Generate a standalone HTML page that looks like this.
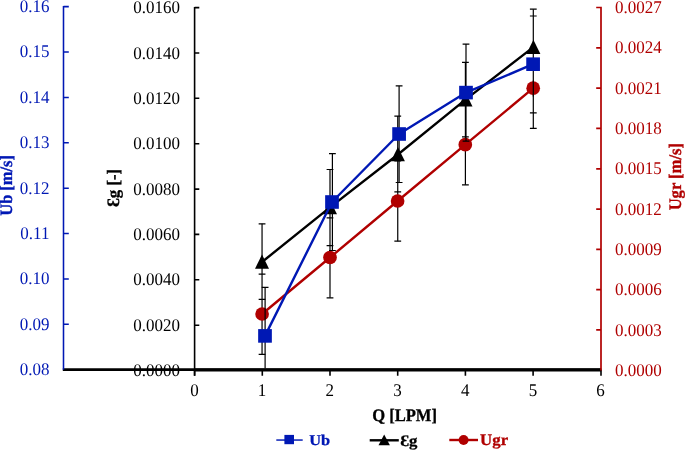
<!DOCTYPE html>
<html><head><meta charset="utf-8"><title>chart</title>
<style>
html,body{margin:0;padding:0;background:#fff;}
body{width:685px;height:450px;overflow:hidden;}
svg{display:block;will-change:transform;}
text{font-family:"Liberation Serif",serif;font-size:17px;text-rendering:geometricPrecision;}
.b{font-weight:bold;font-size:16px;stroke-width:.3px;}
</style></head><body>
<svg width="685" height="450" viewBox="0 0 685 450">
<rect width="685" height="450" fill="#fff"/>
<g id="black">
<polyline points="262.0,262.0 330.0,207.4 397.9,154.5 465.5,99.6 533.4,47.1" fill="none" stroke="#000000" stroke-width="2.4" stroke-linejoin="round"/>
<path d="M262.05 223.8V354.4M330.00 169.5V297.8M397.75 116.1V241.2M465.40 62.3V184.8M533.30 9.2V128.3" stroke="#000" stroke-width="1.2" fill="none"/>
<path d="M258.65 223.8H265.45M258.65 299.4H265.45M326.60 169.5H333.40M326.60 245.6H333.40M394.35 116.1H401.15M394.35 191.8H401.15M462.00 62.3H468.80M462.00 136.9H468.80M529.90 9.2H536.70M529.90 85.0H536.70" stroke="#000" stroke-width="1.2" fill="none"/>
<path d="M262.0 254.6L269.0 268.8H255.0Z" fill="#000000"/>
<path d="M330.0 200.0L337.0 214.2H323.0Z" fill="#000000"/>
<path d="M397.9 147.1L404.9 161.3H390.9Z" fill="#000000"/>
<path d="M465.5 92.2L472.5 106.4H458.5Z" fill="#000000"/>
<path d="M533.4 39.7L540.4 53.9H526.4Z" fill="#000000"/>
</g>
<g id="red">
<polyline points="262.1,314.0 330.0,257.5 397.6,201.0 465.3,144.7 533.2,88.2" fill="none" stroke="#b00000" stroke-width="2.4" stroke-linejoin="round"/>
<path d="M258.65 274.2H265.45M258.65 354.4H265.45M326.60 217.8H333.40M326.60 297.8H333.40M394.35 160.8H401.15M394.35 241.2H401.15M462.00 104.5H468.80M462.00 184.8H468.80M529.90 48.0H536.70M529.90 128.3H536.70" stroke="#000" stroke-width="1.2" fill="none"/>
<circle cx="262.1" cy="314.0" r="6.85" fill="#b00000"/>
<circle cx="330.0" cy="257.5" r="6.85" fill="#b00000"/>
<circle cx="397.6" cy="201.0" r="6.85" fill="#b00000"/>
<circle cx="465.3" cy="144.7" r="6.85" fill="#b00000"/>
<circle cx="533.2" cy="88.2" r="6.85" fill="#b00000"/>
</g>
<g id="blue">
<polyline points="265.0,335.9 332.0,202.0 399.1,134.0 466.0,92.6 533.1,64.2" fill="none" stroke="#0018b4" stroke-width="2.4" stroke-linejoin="round"/>
<path d="M265.1 287.4V368.5M261.7 287.4H268.5M332.4 153.6V250.5M329.0 153.6H335.8M329.0 250.5H335.8M399.1 85.8V182.5M395.7 85.8H402.5M395.7 182.5H402.5M466.0 44.2V141.2M462.6 44.2H469.4M462.6 141.2H469.4M533.3 80.5V96.5M529.9 16.0H536.7M529.9 112.9H536.7" stroke="#000" stroke-width="1.2" fill="none"/>
<rect x="258.15" y="329.10" width="13.7" height="13.6" fill="#0018b4"/>
<rect x="325.15" y="195.20" width="13.7" height="13.6" fill="#0018b4"/>
<rect x="392.25" y="127.20" width="13.7" height="13.6" fill="#0018b4"/>
<rect x="459.15" y="85.80" width="13.7" height="13.6" fill="#0018b4"/>
<rect x="526.25" y="57.40" width="13.7" height="13.6" fill="#0018b4"/>
</g>
<path d="M62.8 369.6H601.2" stroke="#000" stroke-width="2.7" fill="none"/><path d="M194.6 369.95H601.2" stroke="#000" stroke-width="3.1" fill="none"/>
<path d="M194.6 369.7V375.7M262.3 369.7V375.7M330.0 369.7V375.7M397.7 369.7V375.7M465.4 369.7V375.7M533.1 369.7V375.7M601.0 369.7V375.7" stroke="#000" stroke-width="1.6" fill="none"/>
<text transform="translate(194.4 396.0) scale(1 1.05)" text-anchor="middle">0</text>
<text transform="translate(262.1 396.0) scale(1 1.05)" text-anchor="middle">1</text>
<text transform="translate(329.8 396.0) scale(1 1.05)" text-anchor="middle">2</text>
<text transform="translate(397.5 396.0) scale(1 1.05)" text-anchor="middle">3</text>
<text transform="translate(465.2 396.0) scale(1 1.05)" text-anchor="middle">4</text>
<text transform="translate(532.9 396.0) scale(1 1.05)" text-anchor="middle">5</text>
<text transform="translate(600.6 396.0) scale(1 1.05)" text-anchor="middle">6</text>
<path d="M63.5 6.0V369.7M63.5 6.6H68.8M63.5 52.0H68.8M63.5 97.4H68.8M63.5 142.8H68.8M63.5 188.2H68.8M63.5 233.5H68.8M63.5 278.9H68.8M63.5 324.3H68.8" stroke="#0018b4" stroke-width="1.55" fill="none"/>
<text transform="translate(49.4 11.9) scale(1 1.05)" text-anchor="end" fill="#0018b4">0.16</text>
<text transform="translate(49.4 57.3) scale(1 1.05)" text-anchor="end" fill="#0018b4">0.15</text>
<text transform="translate(49.4 102.7) scale(1 1.05)" text-anchor="end" fill="#0018b4">0.14</text>
<text transform="translate(49.4 148.1) scale(1 1.05)" text-anchor="end" fill="#0018b4">0.13</text>
<text transform="translate(49.4 193.5) scale(1 1.05)" text-anchor="end" fill="#0018b4">0.12</text>
<text transform="translate(49.4 238.8) scale(1 1.05)" text-anchor="end" fill="#0018b4">0.11</text>
<text transform="translate(49.4 284.2) scale(1 1.05)" text-anchor="end" fill="#0018b4">0.10</text>
<text transform="translate(49.4 329.6) scale(1 1.05)" text-anchor="end" fill="#0018b4">0.09</text>
<text transform="translate(49.4 375.0) scale(1 1.05)" text-anchor="end" fill="#0018b4">0.08</text>
<path d="M194.6 6.9V375.7M194.6 7.6H199.3M194.6 53.0H199.3M194.6 98.3H199.3M194.6 143.7H199.3M194.6 189.1H199.3M194.6 234.4H199.3M194.6 279.8H199.3M194.6 325.2H199.3" stroke="#000" stroke-width="1.6" fill="none"/>
<text transform="translate(180.1 13.1) scale(1 1.05)" text-anchor="end" fill="#000">0.0160</text>
<text transform="translate(180.1 58.5) scale(1 1.05)" text-anchor="end" fill="#000">0.0140</text>
<text transform="translate(180.1 103.8) scale(1 1.05)" text-anchor="end" fill="#000">0.0120</text>
<text transform="translate(180.1 149.2) scale(1 1.05)" text-anchor="end" fill="#000">0.0100</text>
<text transform="translate(180.1 194.6) scale(1 1.05)" text-anchor="end" fill="#000">0.0080</text>
<text transform="translate(180.1 239.9) scale(1 1.05)" text-anchor="end" fill="#000">0.0060</text>
<text transform="translate(180.1 285.3) scale(1 1.05)" text-anchor="end" fill="#000">0.0040</text>
<text transform="translate(180.1 330.7) scale(1 1.05)" text-anchor="end" fill="#000">0.0020</text>
<text transform="translate(180.1 376.1) scale(1 1.05)" text-anchor="end" fill="#000">0.0000</text>
<path d="M601.0 6.7V370.5M601.0 7.5H596.2M601.0 47.8H596.2M601.0 88.1H596.2M601.0 128.4H596.2M601.0 168.8H596.2M601.0 209.1H596.2M601.0 249.3H596.2M601.0 289.6H596.2M601.0 329.9H596.2" stroke="#b00000" stroke-width="1.7" fill="none"/>
<text transform="translate(615.1 12.9) scale(1 1.05)" fill="#b00000">0.0027</text>
<text transform="translate(615.1 53.2) scale(1 1.05)" fill="#b00000">0.0024</text>
<text transform="translate(615.1 93.6) scale(1 1.05)" fill="#b00000">0.0021</text>
<text transform="translate(615.1 133.9) scale(1 1.05)" fill="#b00000">0.0018</text>
<text transform="translate(615.1 174.3) scale(1 1.05)" fill="#b00000">0.0015</text>
<text transform="translate(615.1 214.6) scale(1 1.05)" fill="#b00000">0.0012</text>
<text transform="translate(615.1 254.9) scale(1 1.05)" fill="#b00000">0.0009</text>
<text transform="translate(615.1 295.3) scale(1 1.05)" fill="#b00000">0.0006</text>
<text transform="translate(615.1 335.6) scale(1 1.05)" fill="#b00000">0.0003</text>
<text transform="translate(615.1 376.0) scale(1 1.05)" fill="#b00000">0.0000</text>
<text class="b" transform="translate(11.7 185.4) rotate(-90) scale(1.026 1.09)" text-anchor="middle" fill="#0018b4" stroke="#0018b4">Ub [m/s]</text>
<text class="b" transform="translate(119.3 187.95) rotate(-90) scale(1.046 1.088)" text-anchor="middle" fill="#000" stroke="#000">&#x190;g [-]</text>
<text class="b" transform="translate(681.3 176.7) rotate(-90) scale(1.035 1.10)" text-anchor="middle" fill="#b00000" stroke="#b00000">Ugr [m/s]</text>
<text class="b" transform="translate(404.55 421.3) scale(1.035 1.10)" text-anchor="middle" fill="#000" stroke="#000">Q [LPM]</text>
<path d="M276.3 440.05H302.7" stroke="#0018b4" stroke-width="1.45"/><rect x="284.4" y="434.9" width="9.6" height="9.3" fill="#0018b4"/>
<text class="b" transform="translate(309.3 444.6) scale(1.09 1)" fill="#0018b4" stroke="#0018b4" style="font-size:15px">Ub</text>
<path d="M369.7 440.3H398.8" stroke="#000" stroke-width="2.4"/><path d="M384.2 434.5L389.9 445.3H378.5Z" fill="#000"/>
<text class="b" transform="translate(400.2 446.1) scale(1.045 1)" fill="#000" stroke="#000">&#x190;g</text>
<path d="M449.3 440H478" stroke="#b00000" stroke-width="2.4"/><circle cx="463.6" cy="440" r="4.95" fill="#b00000"/>
<text class="b" transform="translate(480.1 444.9) scale(1.05 1)" fill="#b00000" stroke="#b00000">Ugr</text>
</svg>
</body></html>
